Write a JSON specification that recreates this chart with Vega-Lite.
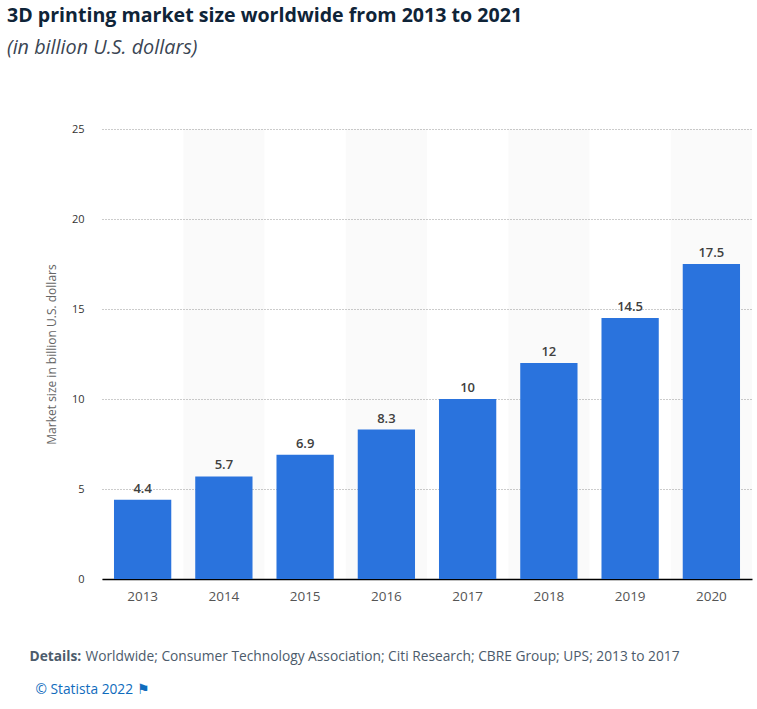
{
"$schema":"https://vega.github.io/schema/vega-lite/v6.json",
"width":650,"height":450,"autosize":{"type":"none"},
"padding":{"left":102,"top":129,"right":5,"bottom":130},
"background":"#ffffff",
"title":{"text":"3D printing market size worldwide from 2013 to 2021","subtitle":"(in billion U.S. dollars)","anchor":"start","frame":"group","dx":-95,"offset":64,"font":"Open Sans","fontSize":19.6,"fontWeight":"bold","color":"#0f2438","subtitleFont":"Open Sans","subtitleFontSize":19.8,"subtitleFontStyle":"italic","subtitleColor":"#3a4553","subtitlePadding":12},
"config":{"view":{"stroke":null},"font":"Open Sans"},
"data":{"values":[
{"year":"2013","value":4.4,"shade":0},
{"year":"2014","value":5.7,"shade":25},
{"year":"2015","value":6.9,"shade":0},
{"year":"2016","value":8.3,"shade":25},
{"year":"2017","value":10,"shade":0},
{"year":"2018","value":12,"shade":25},
{"year":"2019","value":14.5,"shade":0},
{"year":"2020","value":17.5,"shade":25}
]},
"resolve":{"axis":{"x":"independent"},"scale":{"y":"shared"}},
"layer":[
{"mark":{"type":"bar","color":"#000000","opacity":0.018},
"encoding":{
"x":{"field":"year","type":"nominal","scale":{"paddingInner":0,"paddingOuter":0},"axis":{"orient":"bottom","labels":false,"ticks":false,"domain":false,"grid":false,"title":"Details:","titleFont":"Open Sans","titleFontSize":13.75,"titleFontWeight":"bold","titleColor":"#4c5b6b","titleX":-73,"titleY":77,"titleAlign":"left","titleBaseline":"middle"}},
"y":{"field":"shade","type":"quantitative","stack":null,"scale":{"domain":[0,25],"nice":false},"axis":{"values":[0,5,10,15,20,25],"title":"Market size in billion U.S. dollars","titleFont":"Open Sans","titleFontSize":12,"titleFontWeight":"normal","titleColor":"#666666","titlePadding":13,"labelFont":"Open Sans","labelFontSize":11,"labelColor":"#333333","labelPadding":18,"ticks":false,"domain":false,"grid":true,"gridColor":"#999999","gridDash":[1,2],"gridWidth":1}}
}},
{"mark":{"type":"bar","color":"#2a73dd","width":{"band":0.705}},
"encoding":{
"x":{"field":"year","type":"nominal","axis":{"orient":"bottom","title":null,"labelAngle":0,"labelFont":"Open Sans","labelFontSize":13.5,"labelColor":"#555555","labelPadding":10,"ticks":false,"domain":true,"domainColor":"#000000","domainWidth":1.5,"grid":false}},
"y":{"field":"value","type":"quantitative","stack":null}
}},
{"mark":{"type":"text","font":"Open Sans","fontSize":13,"fontWeight":600,"color":"#404040","baseline":"bottom","dy":-4},
"encoding":{
"x":{"field":"year","type":"nominal","axis":{"orient":"bottom","labels":false,"ticks":false,"domain":false,"grid":false,"title":"Worldwide; Consumer Technology Association; Citi Research; CBRE Group; UPS; 2013 to 2017","titleFont":"Open Sans","titleFontSize":13.75,"titleFontWeight":"normal","titleColor":"#4c5b6b","titleX":-17,"titleY":77,"titleAlign":"left","titleBaseline":"middle"}},
"y":{"field":"value","type":"quantitative"},
"text":{"field":"value","type":"quantitative"}
}},
{"mark":{"type":"text","opacity":0,"text":" "},
"encoding":{
"x":{"field":"year","type":"nominal","axis":{"orient":"bottom","labels":false,"ticks":false,"domain":false,"grid":false,"title":"© Statista 2022   ⚑","titleFont":"Open Sans","titleFontSize":13.75,"titleFontWeight":"normal","titleColor":"#0f6cbd","titleX":-67,"titleY":110,"titleAlign":"left","titleBaseline":"middle"}},
"y":{"field":"value","type":"quantitative"}
}}
]
}
